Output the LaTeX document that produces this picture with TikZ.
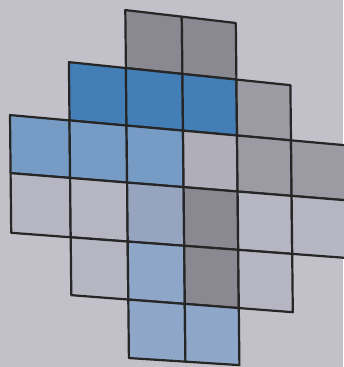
\documentclass[tikz,border=0pt]{standalone}
\definecolor{paper}{RGB}{194,192,200}
\definecolor{deepblue}{RGB}{68,126,182}
\definecolor{midblue}{RGB}{118,156,198}
\definecolor{paleblue}{RGB}{142,166,200}
\definecolor{greyblue}{RGB}{150,164,192}
\definecolor{darkgrey}{RGB}{138,136,144}
\definecolor{midgrey}{RGB}{156,154,162}
\definecolor{palegrey}{RGB}{176,174,184}
\definecolor{lightgrey}{RGB}{182,182,194}
\tikzset{
  tile/.style={line width=2.2pt, draw=black!85, line join=round},
}
\begin{document}
\begin{tikzpicture}[x=1pt, y=1pt]
  \fill[paper] (0,0) rectangle (343,-367);
  \useasboundingbox (0,0) rectangle (343,-367);
  % grid corners, slightly tilted as in the photo
  \foreach \i/\xx in {0/10,1/69.5,2/126.5,3/183,4/237,5/291,6/346}{
    \foreach \j/\yy/\s in {0/10/0.117,1/68/0.104,2/125.5/0.09,3/182.5/0.081,4/241.5/0.075,5/299.5/0.077,6/358/0.064}{
      \coordinate (v\i-\j) at ({\xx+0.6*(\j-2)}, {-(\yy+\s*(\xx-126))});
    }
  }
  \foreach \i/\j/\c [evaluate=\i as \ii using int(\i+1), evaluate=\j as \jj using int(\j+1)] in
     {2/0/darkgrey,3/0/darkgrey,
      1/1/deepblue,2/1/deepblue,3/1/deepblue,4/1/midgrey,
      0/2/midblue,1/2/midblue,2/2/midblue,3/2/palegrey,4/2/midgrey,5/2/midgrey,
      0/3/lightgrey,1/3/lightgrey,2/3/greyblue,3/3/darkgrey,4/3/lightgrey,5/3/lightgrey,
      1/4/lightgrey,2/4/paleblue,3/4/darkgrey,4/4/lightgrey,
      2/5/paleblue,3/5/paleblue}{
    \filldraw[tile, fill=\c] (v\i-\j) -- (v\ii-\j) -- (v\ii-\jj) -- (v\i-\jj) -- cycle;
  }
\end{tikzpicture}
\end{document}
